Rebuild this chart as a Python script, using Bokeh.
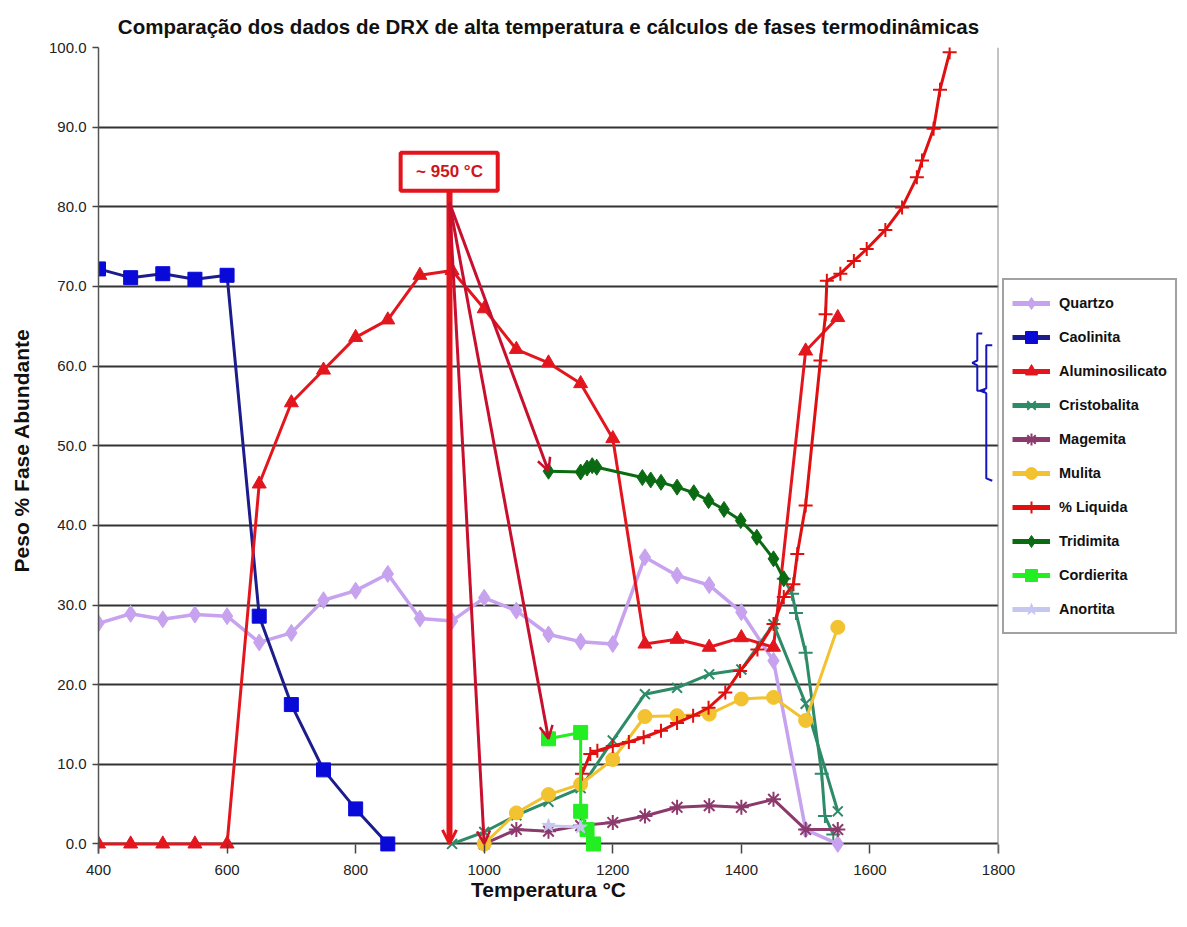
from bokeh.plotting import figure
from bokeh.models import (Range1d, Legend, LegendItem, Arrow, OpenHead, FixedTicker,
                          NumeralTickFormatter, Span)
from bokeh.embed import file_html
from bokeh.resources import INLINE
from bokeh.core.properties import value

# ---------------- data ----------------
temp_50 = list(range(400, 1551, 50))

quartzo_x = temp_50
quartzo_y = [27.7, 28.9, 28.2, 28.8, 28.6, 25.3, 26.5, 30.6, 31.8, 33.9, 28.3, 28.0,
             30.9, 29.3, 26.3, 25.4, 25.1, 36.0, 33.7, 32.5, 29.1, 23.0, 1.8, 0.0]

caolinita_x = [400, 450, 500, 550, 600, 650, 700, 750, 800, 850]
caolinita_y = [72.2, 71.1, 71.6, 70.9, 71.4, 28.6, 17.5, 9.3, 4.4, 0.0]

alumino_x = temp_50
alumino_y = [0, 0, 0, 0, 0, 45.2, 55.4, 59.5, 63.6, 65.8, 71.4, 72.0,
             67.2, 62.1, 60.4, 57.8, 50.9, 25.1, 25.7, 24.7, 25.9, 24.7, 61.9, 66.1]

cristobalita_x = [950, 1000, 1050, 1100, 1150, 1200, 1250, 1300, 1350, 1400, 1450, 1500, 1550]
cristobalita_y = [0.0, 1.5, 3.6, 5.3, 7.0, 13.0, 18.8, 19.6, 21.3, 21.9, 27.6, 17.6, 4.1]

cristobalita_calc_x = [1466, 1479, 1485, 1500, 1525, 1530, 1543]
cristobalita_calc_y = [33.3, 31.4, 29.0, 24.0, 8.8, 3.5, 1.2]

magemita_x = [1000, 1050, 1100, 1150, 1200, 1250, 1300, 1350, 1400, 1450, 1500, 1550]
magemita_y = [0.0, 1.8, 1.6, 2.3, 2.7, 3.5, 4.6, 4.8, 4.6, 5.6, 1.8, 1.8]

mulita_x = [1000, 1050, 1100, 1150, 1200, 1250, 1300, 1350, 1400, 1450, 1500, 1550]
mulita_y = [0.0, 3.9, 6.2, 7.5, 10.6, 16.0, 16.1, 16.3, 18.2, 18.4, 15.5, 27.2]

liquida_x = [1152, 1165, 1176, 1200, 1225, 1248, 1275, 1300, 1325, 1349, 1375, 1398, 1425,
             1450, 1466, 1481, 1487, 1500, 1523, 1531, 1533, 1554, 1575, 1595, 1624, 1650,
             1673, 1681, 1699, 1709, 1724]
liquida_y = [8.8, 11.3, 11.7, 12.3, 12.8, 13.4, 14.2, 15.2, 16.1, 17.1, 19.0, 21.7, 24.4,
             27.6, 31.0, 32.6, 36.4, 42.5, 60.7, 66.5, 70.7, 71.6, 73.2, 74.7, 77.1, 79.9,
             83.7, 85.8, 89.8, 94.7, 99.4]

tridimita_x = [1100, 1150, 1160, 1168, 1175, 1246, 1259, 1275, 1300, 1326, 1349, 1373,
               1399, 1424, 1450, 1466]
tridimita_y = [46.8, 46.7, 47.2, 47.5, 47.3, 46.0, 45.7, 45.4, 44.8, 44.1, 43.1, 42.0,
               40.6, 38.5, 35.8, 33.3]

cordierita_x = [1100, 1150, 1150, 1160, 1170]
cordierita_y = [13.2, 14.0, 4.1, 1.8, 0.0]

anortita_x = [1100, 1150]
anortita_y = [2.3, 2.1]

y_ticks = [0, 10, 20, 30, 40, 50, 60, 70, 80, 90, 100]
x_ticks = [400, 600, 800, 1000, 1200, 1400, 1600, 1800]

FONT = "Liberation Sans"
NAN = float("nan")

p = figure(frame_width=900, frame_height=806, output_backend="svg", toolbar_location=None,
           x_range=Range1d(400, 1800), y_range=Range1d(-1.2, 100),
           min_border_left=98, min_border_top=47, min_border_right=186, min_border_bottom=60,
           background_fill_color="white", border_fill_color="white")
p.outline_line_color = None

p.title.text = "Comparação dos dados de DRX de alta temperatura e cálculos de fases termodinâmicas"
p.title.align = "center"
p.title.vertical_align = "top"
p.title.text_font = FONT
p.title.text_font_size = "20.5px"
p.title.text_font_style = "bold"
p.title.text_color = "#111111"
p.title.standoff = 16

p.xgrid.grid_line_color = None
p.ygrid.grid_line_color = "#333333"
p.ygrid.grid_line_width = 2

p.yaxis.ticker = FixedTicker(ticks=y_ticks)
p.yaxis.formatter = NumeralTickFormatter(format="0.0")
p.xaxis.ticker = FixedTicker(ticks=x_ticks)
for ax in (p.xaxis[0], p.yaxis[0]):
    ax.major_label_text_font = FONT
    ax.major_label_text_font_size = "15px"
    ax.major_label_text_color = "#222222"
    ax.axis_label_text_font = FONT
    ax.axis_label_text_font_style = "bold"
    ax.axis_label_text_color = "#111111"
    ax.minor_tick_line_color = None
    ax.major_tick_line_color = "#444444"
    ax.major_tick_line_width = 1.5

p.xaxis.axis_label = "Temperatura °C"
p.yaxis.axis_label = "Peso % Fase Abundante"
p.xaxis.axis_label_text_font_size = "21px"
p.yaxis.axis_label_text_font_size = "21px"
p.xaxis.axis_line_color = None
p.xaxis.major_tick_in = 9
p.xaxis.major_tick_out = 0
p.xaxis.major_label_standoff = 11
p.xaxis.axis_label_standoff = 0
p.yaxis.axis_line_color = "#555555"
p.yaxis.axis_line_width = 1.5
p.yaxis.major_tick_in = 0
p.yaxis.major_tick_out = 6
p.yaxis.major_label_standoff = 6
p.yaxis.axis_label_standoff = 13

p.add_layout(Span(location=1800, dimension="height", line_color="#888888", line_width=2))

# colours
C_QUA = "#C7A2EE"
C_CAO = "#0A0AD8"
C_CAO_L = "#1C1C8C"
C_ALU = "#E3161E"
C_CRI = "#2E8B68"
C_MAG = "#8C3A6C"
C_MUL = "#F2C230"
C_LIQ = "#E01010"
C_TRI = "#0B6B12"
C_COR = "#22EE22"
C_ANO = "#C6C6F0"

series = [
    ("Quartzo", quartzo_x, quartzo_y, C_QUA, C_QUA, "diamond", 17, 3.5),
    ("Caolinita", caolinita_x, caolinita_y, C_CAO_L, C_CAO, "square", 14, 3),
    ("Aluminosilicato", alumino_x, alumino_y, C_ALU, C_ALU, "triangle", 14, 3),
    ("Cristobalita", cristobalita_x, cristobalita_y, C_CRI, C_CRI, "x", 14, 3),
    ("Magemita", magemita_x, magemita_y, C_MAG, C_MAG, "asterisk", 15, 3),
    ("Mulita", mulita_x, mulita_y, C_MUL, C_MUL, "circle", 14, 3),
    ("% Liquida", liquida_x, liquida_y, C_LIQ, C_LIQ, "cross", 14, 3),
    ("Tridimita", tridimita_x, tridimita_y, C_TRI, C_TRI, "diamond", 16, 3),
    ("Cordierita", cordierita_x, cordierita_y, C_COR, C_COR, "square", 14, 3),
    ("Anortita", anortita_x, anortita_y, C_ANO, C_ANO, "star", 14, 3),
]

line_only = {"x", "asterisk", "cross"}

# teal calculated cristobalite (no legend entry)
p.line(cristobalita_calc_x, cristobalita_calc_y, line_color=C_CRI, line_width=3)
p.scatter(cristobalita_calc_x, cristobalita_calc_y, marker="cross", size=14,
          line_color=C_CRI, line_width=2)

items = []
for name, xs, ys, lc, mc, marker, size, lw in series:
    p.line(xs, ys, line_color=lc, line_width=lw)
    if marker in line_only:
        p.scatter(xs, ys, marker=marker, size=size, line_color=mc, line_width=2)
    else:
        p.scatter(xs, ys, marker=marker, size=size, fill_color=mc, line_color=mc)
    # legend-only renderers (thicker line sample), one invisible NaN point
    rl = p.line([NAN], [NAN], line_color=lc, line_width=5)
    if marker in line_only:
        rs = p.scatter([NAN], [NAN], marker=marker, size=12, line_color=mc, line_width=2)
    else:
        rs = p.scatter([NAN], [NAN], marker=marker, size=12, fill_color=mc, line_color=mc)
    items.append(LegendItem(label=name, renderers=[rl, rs]))

legend = Legend(items=items, location=(4, 219))
legend.border_line_color = "#444444"
legend.border_line_width = 2
legend.background_fill_color = "white"
legend.background_fill_alpha = 1
legend.label_text_font = FONT
legend.label_text_font_style = "bold"
legend.label_text_font_size = "14.5px"
legend.label_text_color = "#111111"
legend.glyph_width = 38
legend.glyph_height = 30
legend.label_height = 20
legend.spacing = 4
legend.padding = 8
legend.margin = 0
legend.label_standoff = 9
p.add_layout(legend, "right")

# ---------------- annotation: ~950 °C ----------------
RED = "#E3141B"
DARK_RED = "#C8102E"
pico_T = 946
box_l, box_r, box_b, box_t = 870, 1021, 82.0, 86.8
p.quad(left=[box_l], right=[box_r], bottom=[box_b], top=[box_t],
       fill_color="white", line_color=RED, line_width=4)
p.text(x=[pico_T], y=[(box_b + box_t) / 2], text=["~ 950 °C"], text_font=value(FONT),
       text_font_style="bold", text_font_size="17px", text_color="#D0141B",
       text_align="center", text_baseline="middle")

p.add_layout(Arrow(end=OpenHead(size=14, line_color=RED, line_width=3),
                   x_start=pico_T, y_start=box_b, x_end=pico_T, y_end=cristobalita_y[0],
                   line_color=RED, line_width=6))
apex_y = 80.5
for tx, ty in [(mulita_x[0], mulita_y[0]), (cordierita_x[0], cordierita_y[0]),
               (tridimita_x[0], tridimita_y[0])]:
    p.add_layout(Arrow(end=OpenHead(size=13, line_color=DARK_RED, line_width=2.5),
                       x_start=pico_T, y_start=apex_y, x_end=tx, y_end=ty,
                       line_color=DARK_RED, line_width=3))

# blue braces at right
BLUE = "#1414C0"
p.line([1774.8, 1767, 1767, 1759.2, 1767, 1767, 1779.5],
       [64.1, 64.1, 60.7, 60.4, 60.1, 56.9, 56.9], line_color=BLUE, line_width=2)
p.line([1790.3, 1781, 1781, 1771.7, 1781, 1781, 1790.3],
       [62.6, 62.6, 57.2, 56.9, 56.6, 45.9, 45.6], line_color=BLUE, line_width=2)

open("out.html", "w").write(file_html(p, INLINE))
